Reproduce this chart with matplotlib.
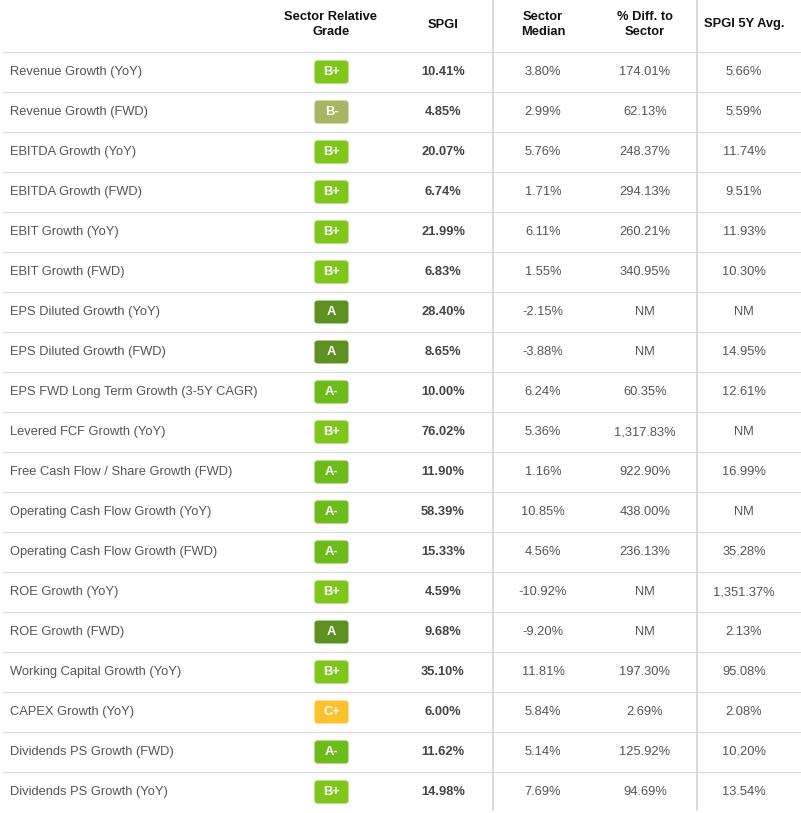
import matplotlib.pyplot as plt
from matplotlib.patches import FancyBboxPatch

plt.rcParams['font.family'] = ['Liberation Sans', 'DejaVu Sans']

metrics = [
    "Revenue Growth (YoY)", "Revenue Growth (FWD)", "EBITDA Growth (YoY)",
    "EBITDA Growth (FWD)", "EBIT Growth (YoY)", "EBIT Growth (FWD)",
    "EPS Diluted Growth (YoY)", "EPS Diluted Growth (FWD)",
    "EPS FWD Long Term Growth (3-5Y CAGR)", "Levered FCF Growth (YoY)",
    "Free Cash Flow / Share Growth (FWD)", "Operating Cash Flow Growth (YoY)",
    "Operating Cash Flow Growth (FWD)", "ROE Growth (YoY)", "ROE Growth (FWD)",
    "Working Capital Growth (YoY)", "CAPEX Growth (YoY)",
    "Dividends PS Growth (FWD)", "Dividends PS Growth (YoY)",
]
grades = ["B+", "B-", "B+", "B+", "B+", "B+", "A", "A", "A-", "B+",
          "A-", "A-", "A-", "B+", "A", "B+", "C+", "A-", "B+"]
spgi = ["10.41%", "4.85%", "20.07%", "6.74%", "21.99%", "6.83%", "28.40%",
        "8.65%", "10.00%", "76.02%", "11.90%", "58.39%", "15.33%", "4.59%",
        "9.68%", "35.10%", "6.00%", "11.62%", "14.98%"]
sector_median = ["3.80%", "2.99%", "5.76%", "1.71%", "6.11%", "1.55%", "-2.15%",
                 "-3.88%", "6.24%", "5.36%", "1.16%", "10.85%", "4.56%",
                 "-10.92%", "-9.20%", "11.81%", "5.84%", "5.14%", "7.69%"]
pct_diff = ["174.01%", "62.13%", "248.37%", "294.13%", "260.21%", "340.95%",
            "NM", "NM", "60.35%", "1,317.83%", "922.90%", "438.00%", "236.13%",
            "NM", "NM", "197.30%", "2.69%", "125.92%", "94.69%"]
avg_5y = ["5.66%", "5.59%", "11.74%", "9.51%", "11.93%", "10.30%", "NM",
          "14.95%", "12.61%", "NM", "16.99%", "NM", "35.28%", "1,351.37%",
          "2.13%", "95.08%", "2.08%", "10.20%", "13.54%"]

headers = ["Sector Relative\nGrade", "SPGI", "Sector\nMedian",
           "% Diff. to\nSector", "SPGI 5Y Avg."]
grade_colors = {"A": "#5e9022", "A-": "#6fbb1c", "B+": "#80c51a",
                "B-": "#a7b662", "C+": "#fbc22e"}

W, H = 801, 813
fig = plt.figure(figsize=(W / 100, H / 100), dpi=100)
ax = fig.add_axes([0, 0, 1, 1])
ax.set_xlim(0, W)
ax.set_ylim(H, 0)
ax.axis("off")

col_x = [331, 443, 543, 645, 744]
fs = 9.3
line_c = "#dddddd"

for cx, h in zip(col_x, headers):
    ax.text(cx, 24.5, h, ha="center", va="center", fontsize=fs,
            fontweight="bold", color="#111111", linespacing=1.3)

# grid lines
ax.plot([3, W], [52, 52], color=line_c, lw=1.0)
for i in range(1, len(metrics)):
    y = 52 + 40 * i
    ax.plot([3, W], [y, y], color=line_c, lw=1.0)
for vx in [492.5, 697]:
    ax.plot([vx, vx], [0, 810], color="#d6d6d6", lw=1.2)

for i, m in enumerate(metrics):
    yc = 72 + 40 * i
    ax.text(10, yc, m, ha="left", va="center", fontsize=fs, color="#555555")
    badge = FancyBboxPatch((314.5, yc - 11.5), 34, 23,
                           boxstyle="round,pad=0,rounding_size=3",
                           fc=grade_colors[grades[i]], ec="none")
    ax.add_patch(badge)
    ax.text(331.5, yc, grades[i], ha="center", va="center", fontsize=fs,
            fontweight="bold", color="white")
    ax.text(col_x[1], yc, spgi[i], ha="center", va="center", fontsize=fs,
            fontweight="bold", color="#444444")
    ax.text(col_x[2], yc, sector_median[i], ha="center", va="center",
            fontsize=fs, color="#555555")
    ax.text(col_x[3], yc, pct_diff[i], ha="center", va="center",
            fontsize=fs, color="#555555")
    ax.text(col_x[4], yc, avg_5y[i], ha="center", va="center",
            fontsize=fs, color="#555555")

fig.savefig("out.png", dpi=100)
